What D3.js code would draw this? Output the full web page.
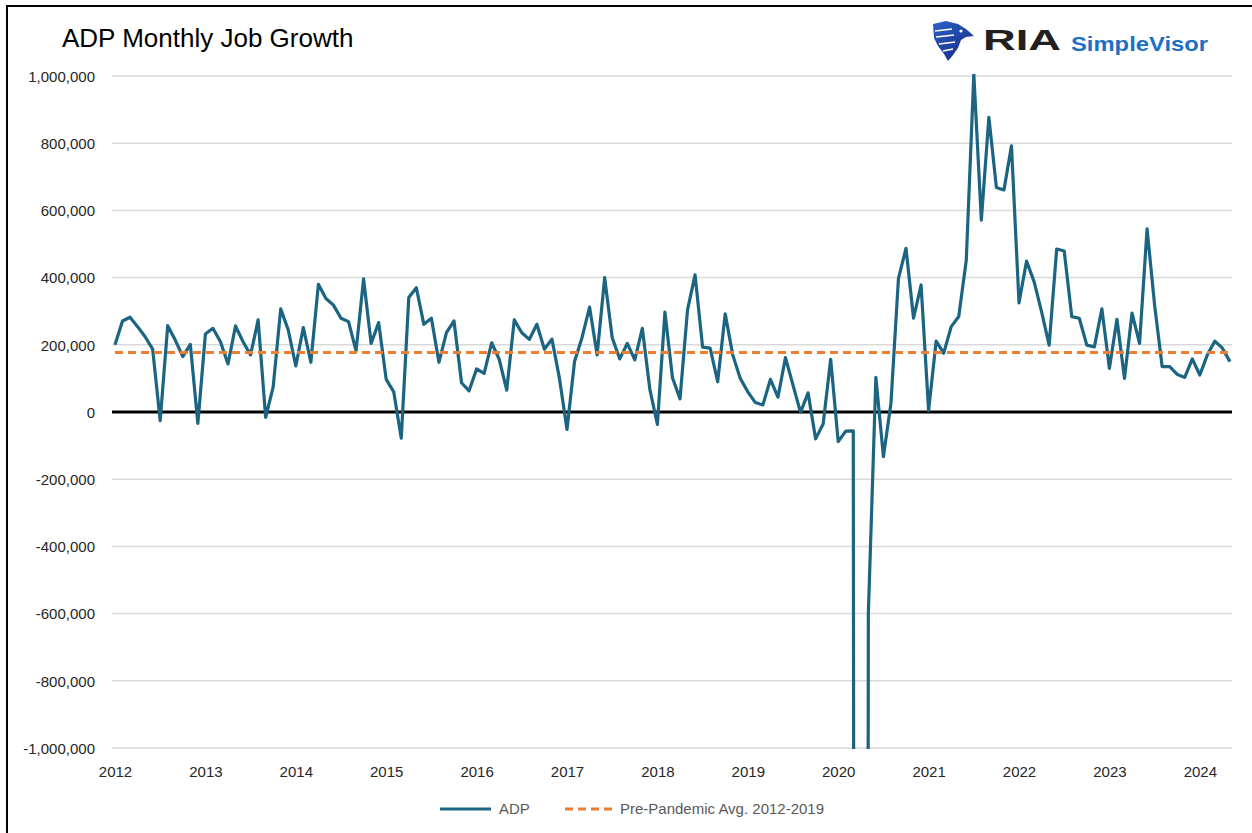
<!DOCTYPE html>
<html>
<head>
<meta charset="utf-8">
<script src="https://cdn.jsdelivr.net/npm/d3@7"></script>
<style>
  body { margin: 0; background: #fff; }
  text { font-family: "Liberation Sans", Arial, sans-serif; }
</style>
</head>
<body>
<div id="chart"></div>
<script>

// data (monthly, starting Jan 2012)

var startYear = 2012;

var adp = [
  // 2012
  200000, 271000, 282000, 254000, 224000, 187000, -26000, 257000, 214000, 165000, 201000, -34000,
  // 2013
  232000, 249000, 209000, 143000, 256000, 209000, 170000, 274000, -16000, 75000, 307000, 244000,
  // 2014
  137000, 251000, 148000, 380000, 338000, 318000, 279000, 269000, 182000, 396000, 204000, 266000,
  // 2015
  97000, 60000, -78000, 341000, 370000, 261000, 279000, 148000, 236000, 271000, 87000, 63000,
  // 2016
  128000, 115000, 206000, 157000, 65000, 274000, 236000, 216000, 261000, 187000, 217000, 100000,
  // 2017
  -52000, 150000, 222000, 312000, 170000, 400000, 221000, 158000, 204000, 155000, 249000, 67000,
  // 2018
  -37000, 297000, 102000, 39000, 304000, 408000, 193000, 190000, 90000, 292000, 170000, 100000,
  // 2019
  60000, 28000, 21000, 97000, 44000, 162000, 80000, -1000, 57000, -80000, -36000, 157000,
  // 2020
  -88000, -57000, -56000, -19400000, -600000, 103000, -133000, 26000, 398000, 487000, 279000, 378000,
  // 2021
  4000, 211000, 175000, 254000, 284000, 452000, 1005000, 571000, 877000, 668000, 661000, 792000,
  // 2022
  325000, 449000, 388000, 298000, 199000, 485000, 479000, 284000, 279000, 199000, 194000, 307000,
  // 2023
  130000, 276000, 100000, 294000, 204000, 545000, 318000, 135000, 135000, 112000, 103000, 158000,
  // 2024
  110000, 170000, 211000, 190000, 150000
];

var yTicks = [-1000000, -800000, -600000, -400000, -200000, 0, 200000, 400000, 600000, 800000, 1000000];
var xYears = [2012, 2013, 2014, 2015, 2016, 2017, 2018, 2019, 2020, 2021, 2022, 2023, 2024];

var seriesNames = ["ADP", "Pre-Pandemic Avg. 2012-2019"];
var colors = ["#1b6482", "#ed7d31"];

// settings

var svgWidth = 1252;
var svgHeight = 833;

var plot = { left: 112, right: 1232, top: 76, bottom: 748 };

var svg = d3.select("#chart")
  .append("svg")
  .attr("width", svgWidth)
  .attr("height", svgHeight);

// frame lines (top and left)
svg.append("line")
  .attr("x1", 6).attr("x2", svgWidth).attr("y1", 6).attr("y2", 6)
  .attr("stroke", "#000").attr("stroke-width", 2);
svg.append("line")
  .attr("x1", 7).attr("x2", 7).attr("y1", 5).attr("y2", svgHeight)
  .attr("stroke", "#000").attr("stroke-width", 2);

// build rows
var data = adp.map(function (v, i) {
  return { t: startYear + i / 12, value: v };
});

// pre-pandemic average
var pre = data.filter(d => d.t < 2020);
var avg = d3.mean(pre, d => d.value);

// scales
var x = d3.scaleLinear()
  .domain([2011.967, 2024.356])
  .range([plot.left, plot.right]);

var y = d3.scaleLinear()
  .domain([-1000000, 1000000])
  .range([plot.bottom, plot.top]);

// title
svg.append("text")
  .attr("x", 62)
  .attr("y", 47)
  .attr("font-size", 26)
  .attr("fill", "#000")
  .text("ADP Monthly Job Growth");

// gridlines
svg.append("g")
  .selectAll("line")
  .data(yTicks.filter(d => d !== 0))
  .enter()
  .append("line")
  .attr("x1", plot.left)
  .attr("x2", plot.right)
  .attr("y1", d => y(d))
  .attr("y2", d => y(d))
  .attr("stroke", "#d9d9d9")
  .attr("stroke-width", 1.5);

// y axis labels (plain hyphen for negatives, like the original)
var comma = d3.format(",");
var yAxis = d3.axisLeft(y)
  .tickValues(yTicks)
  .tickSize(0)
  .tickPadding(0)
  .tickFormat(d => (d < 0 ? "-" : "") + comma(Math.abs(d)));

var yg = svg.append("g")
  .attr("transform", `translate(95, 0)`)
  .call(yAxis);
yg.select(".domain").remove();
yg.selectAll("text")
  .attr("font-size", 15)
  .attr("font-family", "Liberation Sans, Arial, sans-serif")
  .attr("fill", "#262626")
  .attr("dy", "0.35em");

// x axis labels
var xAxis = d3.axisBottom(x)
  .tickValues(xYears)
  .tickSize(0)
  .tickPadding(0)
  .tickFormat(d3.format("d"));

var xg = svg.append("g")
  .attr("transform", `translate(0, 765)`)
  .call(xAxis);
xg.select(".domain").remove();
xg.selectAll("text")
  .attr("font-size", 15)
  .attr("font-family", "Liberation Sans, Arial, sans-serif")
  .attr("fill", "#262626")
  .attr("dy", "0.8em");

// zero line
svg.append("line")
  .attr("x1", plot.left)
  .attr("x2", plot.right)
  .attr("y1", y(0))
  .attr("y2", y(0))
  .attr("stroke", "#000")
  .attr("stroke-width", 3);

// clip
svg.append("clipPath")
  .attr("id", "plotclip")
  .append("rect")
  .attr("x", plot.left)
  .attr("y", plot.top - 2)
  .attr("width", plot.right - plot.left)
  .attr("height", plot.bottom - plot.top + 3);

var lines = svg.append("g").attr("clip-path", "url(#plotclip)");

var line = d3.line()
  .x(d => x(d.t))
  .y(d => y(d.value));

lines.append("path")
  .datum(data)
  .attr("d", line)
  .attr("fill", "none")
  .attr("stroke", colors[0])
  .attr("stroke-width", 3.2)
  .attr("stroke-linejoin", "round");

lines.append("path")
  .datum(data.map(d => ({ t: d.t, value: avg })))
  .attr("d", line)
  .attr("fill", "none")
  .attr("stroke", colors[1])
  .attr("stroke-width", 3)
  .attr("stroke-dasharray", "8,5");

// legend
var legend = svg.append("g");

legend.append("line")
  .attr("x1", 440).attr("x2", 491).attr("y1", 809).attr("y2", 809)
  .attr("stroke", colors[0]).attr("stroke-width", 3);
legend.append("text")
  .attr("x", 499).attr("y", 814)
  .attr("font-size", 15).attr("fill", "#595959")
  .text(seriesNames[0]);

legend.append("line")
  .attr("x1", 565).attr("x2", 615).attr("y1", 809).attr("y2", 809)
  .attr("stroke", colors[1]).attr("stroke-width", 3)
  .attr("stroke-dasharray", "8,5");
legend.append("text")
  .attr("x", 620).attr("y", 814)
  .attr("font-size", 15).attr("fill", "#595959")
  .text(seriesNames[1]);

// logo
var logo = svg.append("g");

var grad = svg.append("defs").append("linearGradient")
  .attr("id", "eagle")
  .attr("x1", "0").attr("y1", "0").attr("x2", "0.6").attr("y2", "1");
grad.append("stop").attr("offset", "0").attr("stop-color", "#2a62c9");
grad.append("stop").attr("offset", "1").attr("stop-color", "#1a2f8a");

logo.append("path")
  .attr("d", "M933,24 L946,21 L958,24 L966,29 L974,36 L966,37 L961,40 L958,48 L953,55 L948,61 L944,54 L938,46 L934,38 Z")
  .attr("fill", "url(#eagle)");
logo.append("path")
  .attr("d", "M935,31 L952,29 M936,37 L954,35 M939,44 L955,42 M943,51 L953,49")
  .attr("stroke", "#fff")
  .attr("stroke-width", 1.6)
  .attr("fill", "none");
logo.append("circle")
  .attr("cx", 961).attr("cy", 31).attr("r", 1.6)
  .attr("fill", "#fff");

logo.append("text")
  .attr("x", 983).attr("y", 50)
  .attr("font-size", 29)
  .attr("font-weight", "bold")
  .attr("fill", "#231f20")
  .attr("textLength", 78)
  .attr("lengthAdjust", "spacingAndGlyphs")
  .text("RIA");

logo.append("text")
  .attr("x", 1071).attr("y", 51)
  .attr("font-size", 21)
  .attr("font-weight", "bold")
  .attr("fill", "#1c6fc4")
  .attr("textLength", 137)
  .attr("lengthAdjust", "spacingAndGlyphs")
  .text("SimpleVisor");

</script>
</body>
</html>
